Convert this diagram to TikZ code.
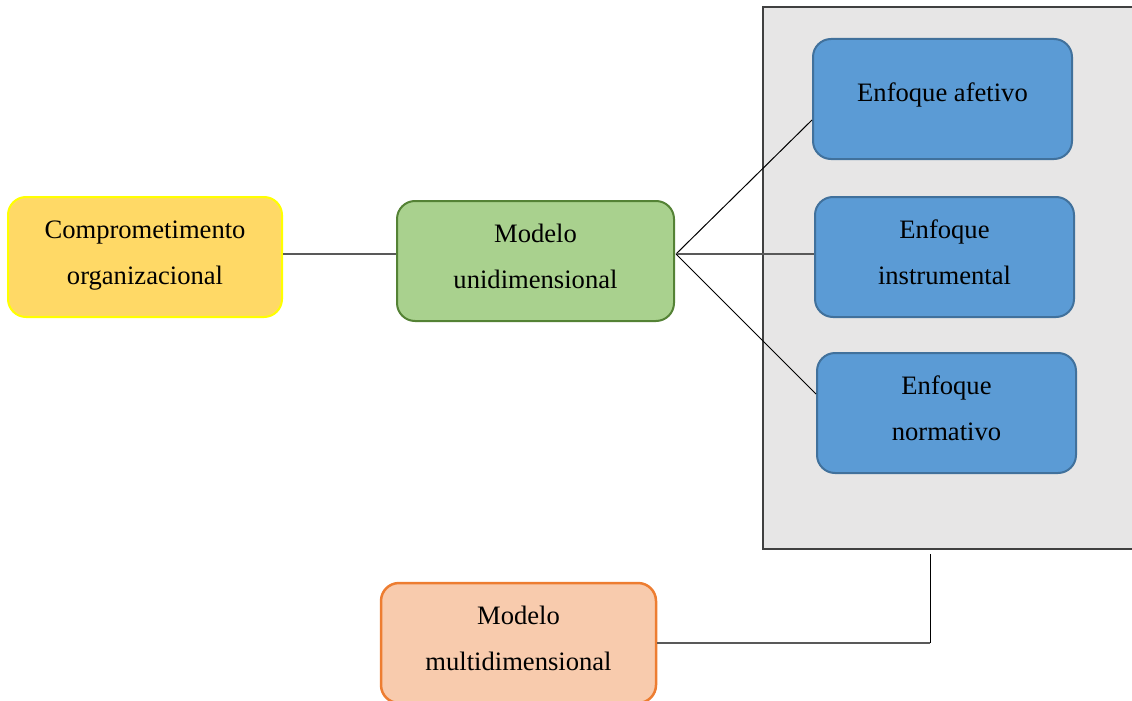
\documentclass[tikz,border=0pt]{standalone}
\usepackage{fontspec}
\setmainfont{Liberation Serif}
\definecolor{ylwfill}{HTML}{FFD966}
\definecolor{ylwdraw}{HTML}{FFFF00}
\definecolor{grnfill}{HTML}{A9D18E}
\definecolor{grndraw}{HTML}{548235}
\definecolor{blufill}{HTML}{5B9BD5}
\definecolor{bludraw}{HTML}{41719C}
\definecolor{orafill}{HTML}{F8CBAD}
\definecolor{oradraw}{HTML}{ED7D31}
\definecolor{gryfill}{HTML}{E7E6E6}
\definecolor{grydraw}{HTML}{404040}
\definecolor{lnclr}{HTML}{595959}
\begin{document}
\begin{tikzpicture}[x=1pt,y=-1pt,
  box/.style={rounded corners=18pt, line width=2pt, inner sep=0pt},
  txt/.style={align=center, inner sep=0pt, font=\fontsize{26.6pt}{46pt}\selectfont},
  ybox/.style={box, fill=ylwfill, draw=ylwdraw, minimum width=274pt, minimum height=120pt},
  gbox/.style={box, fill=grnfill, draw=grndraw, minimum width=277pt, minimum height=120pt},
  bbox/.style={box, fill=blufill, draw=bludraw, minimum width=259pt, minimum height=120pt},
  obox/.style={box, fill=orafill, draw=oradraw, line width=2.5pt, minimum width=275pt, minimum height=120pt},
  panel/.style={fill=gryfill, draw=grydraw, line width=2.5pt, inner sep=0pt, minimum width=380pt, minimum height=542pt},
  conn/.style={draw=lnclr, line width=1.5pt},
  diag/.style={draw=black, line width=1pt}]
\useasboundingbox (0,0) rectangle (1132,701);
\clip (0,0) rectangle (1132,701);
\node[panel] (g) at (953,278) {};
\node[ybox] (c) at (145,257) {};
\node[txt] (ct) at (145,256) {Comprometimento\\organizacional};
\node[gbox] (m) at (535.5,261) {};
\node[txt] (mt) at (535.5,256) {Modelo\\unidimensional};
\node[bbox] (b1) at (942.5,99) {};
\node[txt] (t1) at (942.5,95) {Enfoque afetivo};
\node[bbox] (b2) at (944.5,257) {};
\node[txt] (t2) at (944.5,252) {Enfoque\\instrumental};
\node[bbox] (b3) at (946.5,413) {};
\node[txt] (t3) at (946.5,408) {Enfoque\\normativo};
\node[obox] (o) at (518.5,643) {};
\node[txt] (ot) at (518.5,638) {Modelo\\multidimensional};
\coordinate (j) at (676,254);
\coordinate (k) at (930,643);
\draw[conn] (c.east |- j) -- (m.west |- j);
\draw[diag] (j) -- ([yshift=-21pt]b1.west);
\draw[conn] (j) -- ([yshift=3pt]b2.west);
\draw[diag] (j) -- ([yshift=19pt]b3.west);
\draw[conn] (o.east) -- (k);
\draw[diag] (k) -- ([yshift=-4pt]g.south -| k);
\end{tikzpicture}
\end{document}
